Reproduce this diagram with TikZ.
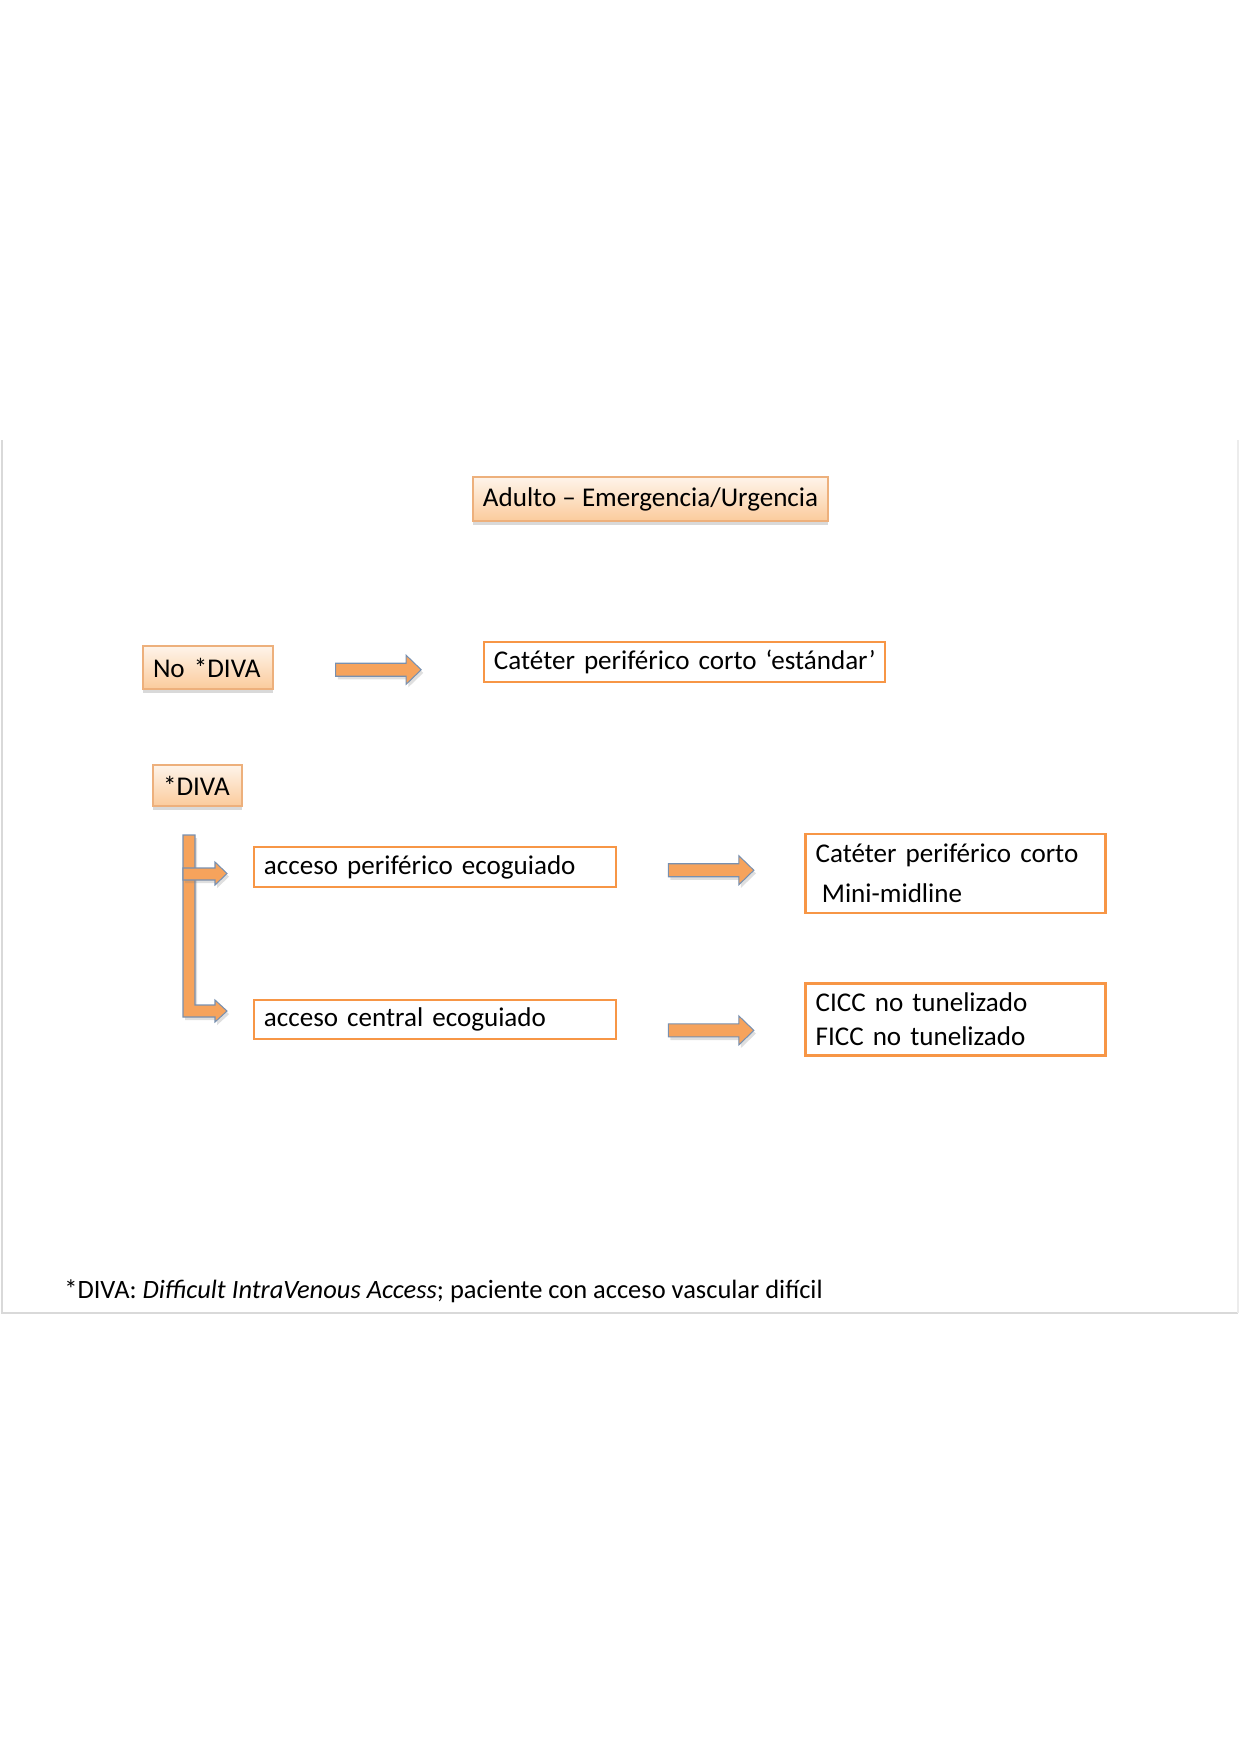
\documentclass[tikz,border=0pt]{standalone}
\usepackage{fontspec}
\setmainfont{Carlito}
\usetikzlibrary{positioning, calc, shadows}
\definecolor{boxline}{HTML}{F79646}
\definecolor{peachtop}{HTML}{FEF4EA}
\definecolor{peachbot}{HTML}{FBCB9C}
\definecolor{peachline}{HTML}{EDB07C}
\definecolor{arrowfill}{HTML}{F6A35C}
\definecolor{arrowline}{HTML}{7890B0}
\definecolor{frameline}{HTML}{D9D9D9}
\newcommand\pxu{0.48pt}

\begin{document}
\begin{tikzpicture}[x=\pxu, y=-\pxu,
    every node/.style={font=\fontsize{13}{16.5}\selectfont},
    headbox/.style={draw=peachline, line width=0.6pt, top color=peachtop,
                    bottom color=peachbot, inner xsep=4.8pt, inner ysep=0pt,
                    drop shadow={shadow xshift=0pt, shadow yshift=-2pt, opacity=0.3}},
    optbox/.style={draw=boxline, line width=1.2pt, fill=white,
                   inner xsep=4.8pt, inner ysep=0pt, align=left},
    arrowbody/.style={draw=arrowline, line width=0.5pt, fill=arrowfill,
                      drop shadow={shadow xshift=1pt, shadow yshift=-1.5pt, opacity=0.25}},
    fatarrow/.pic={
      \draw[arrowbody] (-42.5,-6.5) -- (28,-6.5) -- (28,-14.5) -- (43,0)
           -- (28,14.5) -- (28,6.5) -- (-42.5,6.5) -- cycle;
    }
  ]
  \useasboundingbox (0,0) rectangle (1240,1755);

  % slide frame
  \draw[frameline, line width=1pt] (2,440) -- (2,1313) -- (1238,1313);
  \draw[frameline!50, line width=1pt] (1238,440) -- (1238,1313);

  % headings
  \node[headbox, minimum width=170.4pt, minimum height=21.1pt] (title) at (650.5,499)
       {Adulto -- Emergencia/Urgencia};
  \node[headbox, minimum width=62.4pt, minimum height=20.6pt, text width=52.8pt,
        align=left] (nodiva) at (208,667.5) {\mbox{No *DIVA}};
  \node[headbox, minimum width=42.7pt, minimum height=19.7pt, text width=33.1pt,
        align=left] (diva) at (197.5,785.5) {\mbox{*DIVA}};

  % options
  \node[optbox, minimum height=19.2pt, text width=182.9pt] (std) at (684.5,662)
       {\mbox{Catéter periférico corto ‘estándar’}};
  \node[optbox, minimum height=19.2pt, text width=164.2pt] (perif) at (435,867)
       {\mbox{acceso periférico ecoguiado}};
  \node[optbox, minimum height=18.7pt, text width=164.2pt, below=53pt of perif] (central)
       {\mbox{acceso central ecoguiado}};
  \node[optbox, minimum height=37.9pt, text width=134.4pt, right=89.8pt of perif,
        yshift=-3.1pt, font=\fontsize{13}{19}\selectfont] (res1)
       {\raisebox{-1.6pt}{Catéter periférico corto}\\
        \raisebox{-1.6pt}{\hspace*{0.23em}Mini-midline}};
  \node[optbox, minimum height=34.6pt, text width=134.4pt, right=89.8pt of central] (res2)
       {CICC no tunelizado\\FICC no tunelizado};

  % block arrows
  \pic (a1) at ($(nodiva.east)!0.5!(std.west) + (0,5)$) {fatarrow};
  \pic (a2) at ($(perif.east)!0.5!(res1.west)$) {fatarrow};
  \pic (a3) at ($(central.east)!0.5!(res2.west) + (0,11)$) {fatarrow};

  % branch from *DIVA
  \draw[arrowbody] (183,835) -- (195,835) -- (195,1005) -- (215,1005) -- (215,1000)
       -- (227,1011) -- (215,1022) -- (215,1017) -- (183,1017) -- cycle;
  \draw[arrowbody] (183,868) -- (215,868) -- (215,862) -- (227,873.5) -- (215,885)
       -- (215,880) -- (183,880) -- cycle;

  % footnote
  \node[anchor=west, font=\fontsize{12.7}{16}\selectfont] (note) at (57,1291)
       {*DIVA: \textit{Difficult IntraVenous Access}; paciente con acceso vascular difícil};
\end{tikzpicture}
\end{document}
